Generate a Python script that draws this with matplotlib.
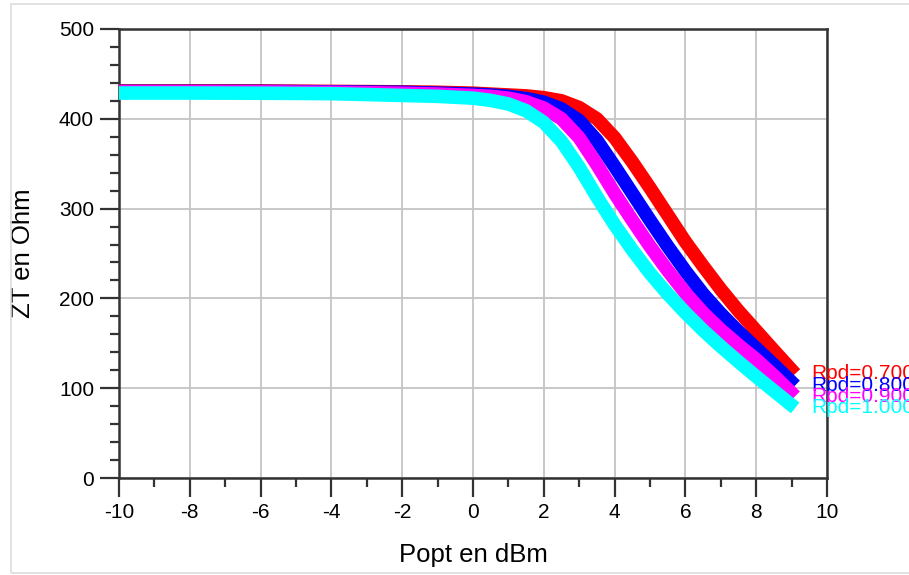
import matplotlib
matplotlib.use("Agg")
import matplotlib.pyplot as plt
from matplotlib.patches import Rectangle
from matplotlib.ticker import MultipleLocator

# --------------------------------------------
# Data
# --------------------------------------------
popt = [-10, -8, -6, -4, -2, -1, 0, 0.5, 1, 1.5, 2, 2.5, 3, 3.5, 4,
        4.5, 5, 5.5, 6, 6.5, 7, 7.5, 8, 8.5, 9.1]

zt_070 = [431, 431, 431, 430.5, 430, 429.5, 428.5, 427.5, 426.5, 425.5, 423.5, 420, 412.5, 400, 379,
          352, 323, 293, 263, 236, 210, 186, 164, 142, 116]
zt_080 = [430.5, 430.5, 430.5, 430, 429.5, 428.5, 427.5, 426.5, 425, 422.5, 418.5, 411, 398, 376, 347,
          317, 287, 258, 230.5, 205, 183, 163, 144.5, 126, 103]
zt_090 = [430, 430, 430, 429.5, 428.5, 427.5, 426, 425, 423, 419, 412, 400, 379, 349, 317,
          287, 258, 231, 206, 184, 165, 148, 132, 114, 91]
zt_100 = [428.7, 428.7, 428.5, 428, 426, 425, 423, 420.5, 416.5, 409, 396, 375, 346, 313, 282,
          254, 228, 205, 184, 164.5, 146.5, 129.5, 113, 97, 78]

labels = ["Rpd=0.700", "Rpd=0.800", "Rpd=0.900", "Rpd=1.000"]
colors = ["#ff0000", "#0000ff", "#ff00ff", "#00ffff"]
series = [zt_070, zt_080, zt_090, zt_100]

x_ticks = [-10, -8, -6, -4, -2, 0, 2, 4, 6, 8, 10]
y_ticks = [0, 100, 200, 300, 400, 500]

# --------------------------------------------
# Figure
# --------------------------------------------
plt.rcParams["font.family"] = ["Liberation Sans", "DejaVu Sans"]

fig = plt.figure(figsize=(9.09, 5.75), dpi=100)
ax = fig.add_axes([119 / 909, 1 - 478 / 575, 708 / 909, 449 / 575])

# thin grey frame around the whole picture
fig.patches.append(Rectangle((11 / 909, 2 / 575), 1.2, 1 - 6 / 575,
                             transform=fig.transFigure, fill=False,
                             edgecolor="#dcdcdc", linewidth=1.2))

for ys, col, lab in zip(series, colors, labels):
    ax.plot(popt, ys, color=col, linewidth=9.8, solid_capstyle="butt",
            solid_joinstyle="round", zorder=3)
    ax.text(9.55, ys[-1], lab, color=col, fontsize=15, va="center", ha="left",
            clip_on=False, zorder=4)

ax.set_xlim(-10, 10)
ax.set_ylim(0, 500)
ax.set_xticks(x_ticks)
ax.set_yticks(y_ticks)
ax.xaxis.set_minor_locator(MultipleLocator(1))
ax.yaxis.set_minor_locator(MultipleLocator(20))
ax.set_xticklabels([str(v) for v in x_ticks])

ax.grid(True, which="major", color="#c4c4c4", linewidth=1.3, zorder=0)
ax.set_axisbelow(True)

for sp in ax.spines.values():
    sp.set_color("#333333")
    sp.set_linewidth(1.8)

ax.tick_params(which="major", direction="out", length=14, width=1.6,
               color="#333333", labelsize=15, pad=4)
ax.tick_params(which="minor", direction="out", length=6.5, width=1.6,
               color="#333333")

ax.set_xlabel("Popt en dBm", fontsize=18.5)
ax.set_ylabel("ZT en Ohm", fontsize=18.5)
ax.xaxis.set_label_coords(0.5, -0.145)
ax.yaxis.set_label_coords(-0.119, 0.5)

fig.savefig("out.png", dpi=100)
